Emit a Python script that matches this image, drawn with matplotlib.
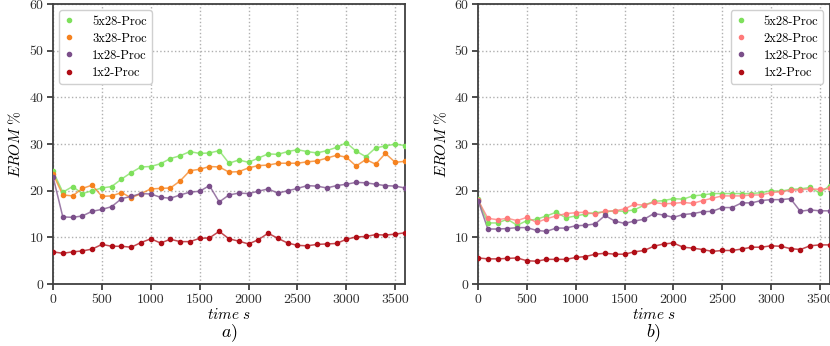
import matplotlib
matplotlib.use('Agg')
import matplotlib.pyplot as plt
from matplotlib.lines import Line2D

plt.rcParams['font.family'] = 'serif'
plt.rcParams['font.serif'] = ['cmr10']
plt.rcParams['mathtext.fontset'] = 'cm'
plt.rcParams['axes.unicode_minus'] = False

# time axis: one sample every 100 s
t = list(range(0, 3700, 100))

# a) left panel
a_5x28 = [24.2, 19.7, 20.9, 19.4, 20.0, 20.6, 20.9, 22.5, 23.9, 25.1, 25.2, 25.8, 26.9, 27.5,
          28.4, 28.0, 28.1, 28.6, 25.9, 26.6, 26.1, 27.0, 27.9, 27.8, 28.4, 28.8, 28.4, 28.1,
          28.6, 29.3, 30.3, 28.5, 27.3, 29.2, 29.6, 30.0, 29.7]
a_3x28 = [23.6, 19.1, 18.9, 20.5, 21.2, 18.8, 18.9, 19.6, 18.5, 19.4, 20.4, 20.5, 20.6, 22.1,
          24.3, 24.6, 25.2, 25.1, 24.0, 24.1, 24.9, 25.4, 25.5, 25.9, 25.9, 25.9, 26.2, 26.4,
          27.0, 27.6, 27.2, 25.3, 26.7, 25.7, 28.0, 26.1, 26.3]
a_1x28 = [23.0, 14.4, 14.3, 14.6, 15.6, 16.0, 16.6, 18.3, 18.8, 19.4, 19.3, 18.6, 18.4, 19.1,
          19.7, 19.9, 21.1, 17.6, 19.1, 19.5, 19.4, 19.9, 20.4, 19.5, 20.0, 20.5, 21.1, 21.0,
          20.6, 21.1, 21.4, 21.8, 21.7, 21.4, 21.1, 21.0, 20.6]
a_1x2 = [6.9, 6.6, 6.9, 7.1, 7.5, 8.5, 8.1, 8.1, 7.9, 8.9, 9.7, 8.8, 9.6, 9.1,
         9.1, 9.8, 9.9, 11.3, 9.7, 9.2, 8.6, 9.5, 10.9, 9.8, 8.8, 8.3, 8.2, 8.5,
         8.6, 8.7, 9.6, 10.1, 10.2, 10.6, 10.5, 10.7, 11.0]

# b) right panel
b_5x28 = [18.2, 13.1, 13.1, 13.9, 12.6, 13.6, 13.9, 14.6, 15.4, 14.2, 14.6, 15.0, 15.3, 15.5,
          15.7, 15.6, 15.9, 16.9, 17.7, 17.9, 18.3, 18.2, 18.9, 19.1, 19.4, 19.4, 19.4, 19.4,
          19.4, 19.6, 20.0, 19.9, 20.3, 20.4, 20.7, 19.5, 21.1]
b_2x28 = [18.0, 14.1, 13.8, 14.1, 13.6, 14.3, 13.2, 14.0, 14.6, 15.1, 15.3, 15.4, 15.0, 15.6,
          15.7, 16.1, 17.1, 16.9, 17.5, 17.2, 17.3, 17.5, 17.3, 17.9, 18.4, 18.9, 18.9, 18.9,
          19.1, 19.1, 19.6, 19.8, 20.1, 20.2, 20.4, 20.3, 20.5]
b_1x28 = [17.9, 11.8, 11.8, 11.9, 12.1, 12.1, 11.5, 11.3, 12.0, 12.0, 12.5, 12.6, 12.9, 14.7,
          13.5, 13.0, 13.5, 13.9, 15.1, 14.8, 14.3, 14.9, 15.1, 15.5, 15.6, 16.4, 16.4, 17.4,
          17.4, 17.9, 18.1, 18.1, 18.3, 15.6, 15.9, 15.7, 15.7]
b_1x2 = [5.6, 5.4, 5.4, 5.5, 5.6, 5.0, 4.9, 5.3, 5.3, 5.3, 5.7, 5.9, 6.4, 6.6,
         6.4, 6.4, 6.9, 7.2, 8.1, 8.6, 8.8, 7.9, 7.7, 7.4, 7.0, 7.2, 7.2, 7.5,
         7.9, 7.9, 8.2, 8.1, 7.6, 7.4, 8.2, 8.4, 8.4]

GREEN = '#7ee05c'
ORANGE = '#f5821f'
PURPLE = '#7b4f8a'
RED = '#b00d16'
PINK = '#ff7a7a'


def draw(ax, series, caption, legend_loc):
    handles = []
    for y, c, lab in series:
        ax.plot(t, y, '-', color=c, lw=1.1, alpha=0.75, zorder=3)
        ax.plot(t, y, '.', color=c, ms=6, zorder=4)
        handles.append(Line2D([], [], ls='none', marker='.', color=c, ms=6, label=lab))
    ax.set_xlim(0, 3600)
    ax.set_ylim(0, 60)
    ax.set_xticks(range(0, 3600, 500))
    ax.set_yticks(range(0, 61, 10))
    ax.grid(True, ls=':', color='#b0b0b0', lw=1.0)
    ax.set_axisbelow(True)
    for s in ax.spines.values():
        s.set_color('#404040')
        s.set_linewidth(1.3)
    ax.tick_params(colors='#303030', labelsize=10, width=1.2, length=4, pad=3)
    ax.set_xlabel(r'$time\ s$', fontsize=11, labelpad=1)
    ax.set_ylabel(r'$EROM\ \%$', fontsize=11, labelpad=4)
    ax.text(0.5, -0.177, caption, transform=ax.transAxes, ha='center', va='center', fontsize=13)
    ax.legend(handles=handles, loc=legend_loc, fontsize=9, handletextpad=1.44,
              handlelength=0.8, labelspacing=0.4, borderpad=0.4, framealpha=1,
              edgecolor='#d0d0d0', fancybox=True)


fig = plt.figure(figsize=(8.3, 3.46), dpi=100)
ax1 = fig.add_axes([0.0639, 0.179, 0.424, 0.809])
ax2 = fig.add_axes([0.576, 0.179, 0.4235, 0.809])

draw(ax1, [(a_5x28, GREEN, '5x28-Proc'), (a_3x28, ORANGE, '3x28-Proc'),
           (a_1x28, PURPLE, '1x28-Proc'), (a_1x2, RED, '1x2-Proc')], r'$a)$', 'upper left')
draw(ax2, [(b_5x28, GREEN, '5x28-Proc'), (b_2x28, PINK, '2x28-Proc'),
           (b_1x28, PURPLE, '1x28-Proc'), (b_1x2, RED, '1x2-Proc')], r'$b)$', 'upper right')

plt.savefig('out.png', dpi=100)
